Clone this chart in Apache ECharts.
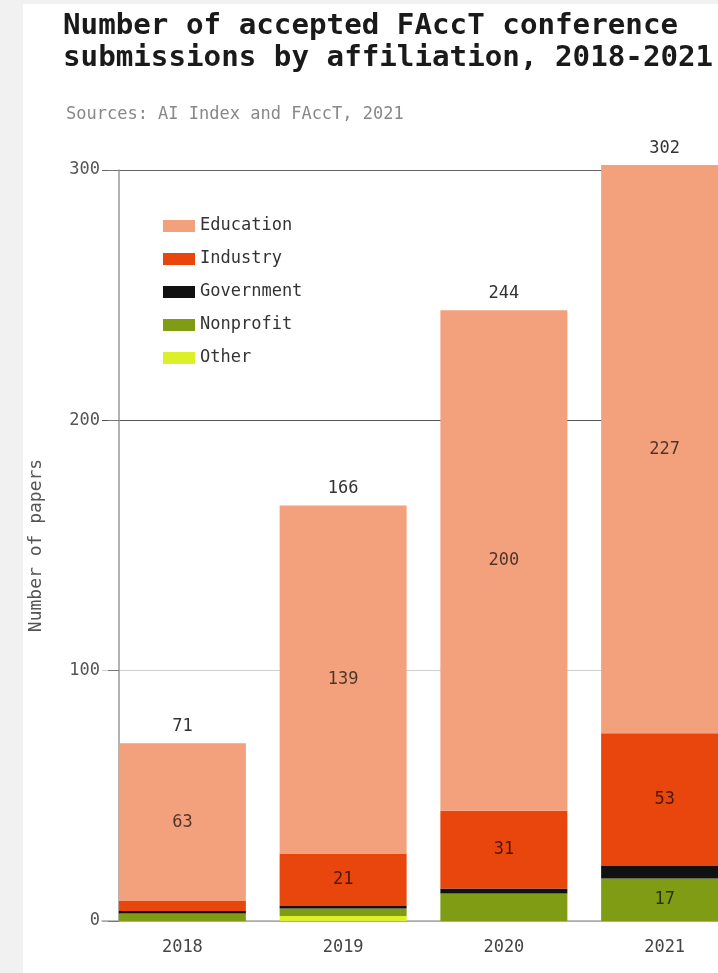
<!DOCTYPE html>
<html>
<head>
<meta charset="utf-8">
<script src="https://cdn.jsdelivr.net/npm/echarts@6/dist/echarts.min.js"></script>
<style>
html,body{margin:0;padding:0;background:#f1f1f1;}
#chart{width:718px;height:973px;}
</style>
</head>
<body>
<div id="chart"></div>
<script>
const years = ['2018', '2019', '2020', '2021'];
const education = [63, 139, 200, 227];
const industry = [4, 21, 31, 53];
const government = [1, 1, 2, 5];
const nonprofit = [3, 3, 11, 17];
const other = [0, 2, 0, 0];
const totals = [71, 166, 244, 302];
const yTicks = [0, 100, 200, 300];

const FONT = 'DejaVu Sans Mono';
const chart = echarts.init(document.getElementById('chart'));

function segLabel(show) {
  return {
    show: show,
    position: 'inside',
    fontFamily: FONT,
    fontSize: 17,
    color: 'rgba(0,0,0,0.68)',
    formatter: p => (p.value >= 15 ? String(p.value) : '')
  };
}

const common = { type: 'bar', stack: 'all', barCategoryGap: '21%', clip: false };

chart.setOption({
  backgroundColor: '#f1f1f1',
  animation: false,
  graphic: [{
    type: 'rect', left: 23, top: 4, z: -10,
    shape: { width: 720, height: 980 },
    style: { fill: '#ffffff' }
  }],
  title: [{
    text: 'Number of accepted FAccT conference\nsubmissions by affiliation, 2018-2021',
    left: 63, top: 10, padding: 0,
    textStyle: { fontFamily: FONT, fontWeight: 'bold', fontSize: 29.2, lineHeight: 32, color: '#1a1a1a' }
  }, {
    text: 'Sources: AI Index and FAccT, 2021',
    left: 66, top: 106, padding: 0,
    textStyle: { fontFamily: FONT, fontWeight: 'normal', fontSize: 17, color: '#888' }
  }],
  legend: {
    data: ['Education', 'Industry', 'Government', 'Nonprofit', 'Other'],
    orient: 'vertical',
    left: 163, top: 217, padding: 0,
    icon: 'rect',
    itemWidth: 32, itemHeight: 12,
    itemGap: 15,
    textStyle: { fontFamily: FONT, fontSize: 17, color: '#333', lineHeight: 18 }
  },
  grid: { left: 102, top: 170, width: 643, bottom: 52, outerBoundsMode: 'none', containLabel: false },
  xAxis: {
    type: 'category',
    data: years,
    axisLine: { lineStyle: { color: '#aaa', width: 1.5 } },
    axisTick: { show: false },
    axisLabel: { fontFamily: FONT, fontSize: 17, color: '#444', margin: 18 }
  },
  yAxis: {
    type: 'value',
    min: yTicks[0], max: yTicks[yTicks.length - 1], interval: 100,
    offset: -17,
    name: 'Number of papers',
    nameLocation: 'middle',
    nameRotate: 90,
    nameGap: 74,
    nameTextStyle: { fontFamily: FONT, fontSize: 18, color: '#555' },
    axisLine: { show: true, lineStyle: { color: '#999', width: 1.5 } },
    axisTick: { show: true, length: 11, lineStyle: { color: '#777' } },
    axisLabel: { fontFamily: FONT, fontSize: 17, color: '#555', margin: 19 },
    splitLine: { show: true, lineStyle: { color: ['#aaa', '#cfcfcf', '#555', '#666'], width: 1.2 } }
  },
  series: [
    Object.assign({}, common, { name: 'Other', data: other, itemStyle: { color: '#dcf02a' } }),
    Object.assign({}, common, { name: 'Nonprofit', data: nonprofit, itemStyle: { color: '#7f9c14' }, label: segLabel(true) }),
    Object.assign({}, common, { name: 'Government', data: government, itemStyle: { color: '#111111' } }),
    Object.assign({}, common, { name: 'Industry', data: industry, itemStyle: { color: '#e8460c' }, label: segLabel(true) }),
    Object.assign({}, common, { name: 'Education', data: education, itemStyle: { color: '#f3a17d' }, label: segLabel(true) }),
    {
      type: 'bar', name: 'Total', data: totals, barGap: '-100%', barCategoryGap: '21%', clip: false,
      silent: true, z: 1,
      itemStyle: { color: 'rgba(0,0,0,0)' },
      label: { show: true, position: 'top', distance: 8, fontFamily: FONT, fontSize: 17, color: '#333' }
    }
  ]
});
</script>
</body>
</html>
